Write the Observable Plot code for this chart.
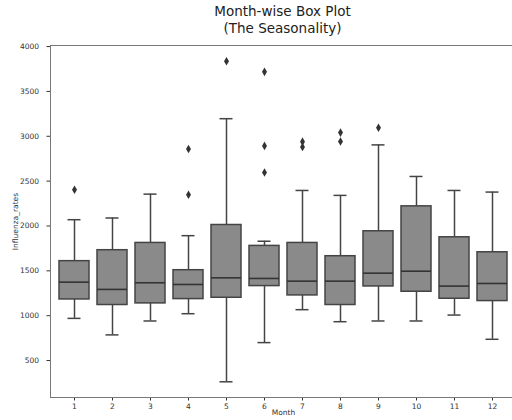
<!DOCTYPE html>
<html><head><meta charset="utf-8">
<script src="https://cdn.jsdelivr.net/npm/d3@7"></script>
<script src="https://cdn.jsdelivr.net/npm/@observablehq/plot@0.6"></script>
<style>
html,body{margin:0;padding:0;background:#fff;overflow:hidden;}
#wrap{width:518px;}
#title{margin-left:50px;width:465px;text-align:center;font-family:"DejaVu Sans";font-size:13.5px;line-height:17px;color:#222;padding-top:3px;height:34px;}
</style></head><body>
<div id="wrap"><div id="title">Month-wise Box Plot<br>(The Seasonality)</div><div id="chart"></div></div>
<script>
const months = [1,2,3,4,5,6,7,8,9,10,11,12];
const q1 =     [1181,1119,1137,1185,1200,1330,1226,1119,1326,1267,1189,1163];
const median = [1374,1293,1367,1348,1422,1415,1385,1385,1474,1496,1330,1359];
const q3 =     [1608,1730,1811,1507,2011,1778,1811,1663,1941,2219,1874,1707];
const lo =     [970,786,941,1022,263,700,1067,933,941,941,1007,737];
const hi =     [2070,2089,2355,1892,3196,1830,2396,2341,2904,2552,2396,2378];
const outlierMonths = [1,4,4,5,6,6,6,7,7,8,8,9];
const outlierValues = [2403,2859,2348,3837,3718,2893,2596,2940,2880,3041,2941,3096];
const yTicks = [500,1000,1500,2000,2500,3000,3500,4000];

const boxes = months.map((m,i)=>({month:m,q1:q1[i],median:median[i],q3:q3[i],lo:lo[i],hi:hi[i]}));
const fliers = outlierMonths.map((m,i)=>({month:m,value:outlierValues[i]}));
const edge = "#444";
const plot = Plot.plot({
  width:518,height:388,marginLeft:50,marginRight:2,marginTop:8,marginBottom:28,
  style:{fontFamily:"DejaVu Sans",fontSize:"7.5px",color:"#333",background:"#fff"},
  x:{type:"band",domain:months,paddingInner:0.2,paddingOuter:0.1,tickSize:3.5,tickPadding:2.5,label:"Month",labelAnchor:"center",labelArrow:"none",labelOffset:17},
  y:{domain:[88,4012],ticks:yTicks,tickSize:3.5,tickPadding:8,label:"Influenza_rates",labelAnchor:"center",labelArrow:"none",labelOffset:38,tickFormat:d=>String(d)},
  marks:[
    Plot.ruleX(boxes,{x:"month",y1:"lo",y2:"q1",stroke:edge,strokeWidth:1.5}),
    Plot.ruleX(boxes,{x:"month",y1:"q3",y2:"hi",stroke:edge,strokeWidth:1.5}),
    Plot.tickY(boxes,{x:"month",y:"lo",insetLeft:8.5,insetRight:8.5,stroke:edge,strokeWidth:1.5}),
    Plot.tickY(boxes,{x:"month",y:"hi",insetLeft:8.5,insetRight:8.5,stroke:edge,strokeWidth:1.5}),
    Plot.barY(boxes,{x:"month",y1:"q1",y2:"q3",fill:"#8a8a8a",stroke:edge,strokeWidth:1.5}),
    Plot.tickY(boxes,{x:"month",y:"median",stroke:"#333",strokeWidth:1.6}),
    Plot.dot(fliers,{x:"month",y:"value",symbol:"diamond",r:2.6,fill:"#333",stroke:"none"}),
    Plot.frame({stroke:"#777"})
  ]
});
document.getElementById("chart").appendChild(plot);
</script>
</body></html>
